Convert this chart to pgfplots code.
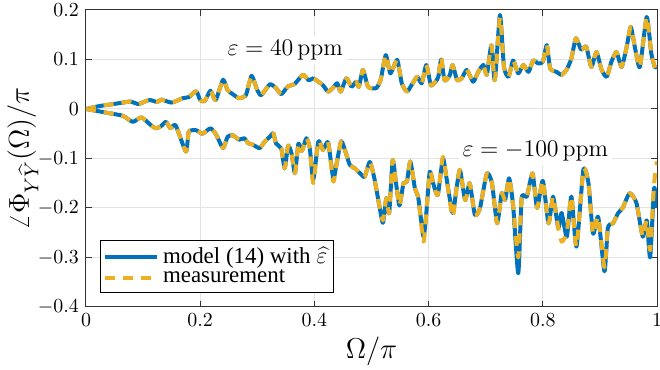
\documentclass[border=0pt]{standalone}
\usepackage{pgfplots}
\usepackage{pgfplotstable}
\usepackage{fontspec}
\usetikzlibrary{calc}
\pgfplotsset{compat=1.18}
\newfontfamily\timesfont{Liberation Serif}
\definecolor{mblue}{rgb}{0,0.447,0.741}
\definecolor{morange}{rgb}{0.929,0.694,0.125}

\pgfplotstableread{
x mod mea
0 0 0
0.024 0.006 0.006
0.048 0.010 0.010
0.065 0.013 0.013
0.078 0.015 0.015
0.092 0.010 0.010
0.105 0.016 0.016
0.113 0.018 0.018
0.125 0.014 0.014
0.132 0.019 0.019
0.15 0.013 0.013
0.17 0.022 0.022
0.18 0.024 0.024
0.193 0.036 0.036
0.2 0.018 0.018
0.208 0.016 0.016
0.218 0.037 0.037
0.227 0.018 0.018
0.24 0.059 0.059
0.248 0.038 0.038
0.257 0.030 0.030
0.268 0.022 0.022
0.28 0.028 0.028
0.29 0.067 0.067
0.3 0.038 0.038
0.307 0.028 0.028
0.322 0.050 0.050
0.333 0.042 0.042
0.342 0.030 0.030
0.354 0.046 0.046
0.365 0.050 0.050
0.38 0.069 0.069
0.39 0.058 0.058
0.398 0.062 0.062
0.407 0.055 0.055
0.415 0.048 0.048
0.424 0.035 0.035
0.432 0.042 0.042
0.44 0.052 0.052
0.446 0.035 0.035
0.456 0.062 0.062
0.465 0.045 0.045
0.473 0.055 0.055
0.478 0.045 0.045
0.485 0.079 0.079
0.494 0.045 0.045
0.508 0.042 0.042
0.516 0.059 0.059
0.525 0.109 0.109
0.533 0.072 0.072
0.545 0.099 0.099
0.553 0.052 0.052
0.562 0.035 0.035
0.57 0.048 0.048
0.58 0.065 0.065
0.588 0.052 0.052
0.596 0.089 0.089
0.604 0.048 0.048
0.612 0.055 0.055
0.617 0.065 0.065
0.622 0.100 0.105
0.628 0.058 0.058
0.637 0.068 0.068
0.642 0.089 0.089
0.65 0.058 0.058
0.658 0.062 0.062
0.667 0.079 0.079
0.678 0.055 0.055
0.687 0.075 0.075
0.696 0.089 0.089
0.702 0.069 0.069
0.71 0.129 0.129
0.716 0.058 0.058
0.725 0.190 0.185
0.732 0.085 0.085
0.74 0.065 0.065
0.748 0.098 0.098
0.757 0.072 0.072
0.766 0.089 0.089
0.775 0.075 0.075
0.783 0.098 0.098
0.792 0.092 0.092
0.8 0.095 0.095
0.807 0.129 0.129
0.813 0.082 0.082
0.824 0.075 0.075
0.833 0.069 0.069
0.842 0.080 0.080
0.85 0.102 0.102
0.858 0.143 0.143
0.867 0.120 0.120
0.876 0.126 0.126
0.885 0.085 0.085
0.894 0.115 0.115
0.903 0.079 0.079
0.912 0.065 0.065
0.92 0.095 0.095
0.929 0.115 0.115
0.938 0.085 0.085
0.947 0.126 0.126
0.954 0.166 0.166
0.962 0.120 0.120
0.97 0.085 0.085
0.982 0.186 0.186
0.99 0.112 0.112
0.996 0.085 0.085
1.0 0.085 0.072
}\uppertab

\pgfplotstableread{
x mod mea
0 0 0
0.024 -0.005 -0.005
0.048 -0.010 -0.010
0.065 -0.014 -0.014
0.082 -0.026 -0.026
0.097 -0.017 -0.017
0.113 -0.032 -0.032
0.122 -0.039 -0.039
0.131 -0.035 -0.035
0.14 -0.026 -0.026
0.148 -0.039 -0.039
0.157 -0.033 -0.033
0.175 -0.086 -0.086
0.18 -0.046 -0.046
0.193 -0.043 -0.043
0.204 -0.050 -0.050
0.218 -0.039 -0.039
0.228 -0.052 -0.052
0.24 -0.079 -0.079
0.248 -0.056 -0.056
0.257 -0.053 -0.053
0.268 -0.062 -0.062
0.277 -0.059 -0.059
0.284 -0.069 -0.069
0.292 -0.072 -0.072
0.304 -0.079 -0.079
0.313 -0.066 -0.066
0.322 -0.056 -0.056
0.328 -0.049 -0.049
0.333 -0.070 -0.070
0.342 -0.080 -0.080
0.348 -0.120 -0.120
0.354 -0.074 -0.074
0.36 -0.090 -0.090
0.366 -0.130 -0.130
0.372 -0.070 -0.070
0.378 -0.085 -0.085
0.386 -0.059 -0.059
0.392 -0.080 -0.080
0.398 -0.143 -0.150
0.407 -0.065 -0.065
0.415 -0.083 -0.083
0.424 -0.067 -0.067
0.433 -0.140 -0.147
0.439 -0.110 -0.110
0.447 -0.065 -0.065
0.456 -0.092 -0.092
0.462 -0.113 -0.113
0.471 -0.120 -0.120
0.48 -0.130 -0.130
0.488 -0.137 -0.137
0.497 -0.107 -0.107
0.505 -0.140 -0.140
0.514 -0.197 -0.197
0.52 -0.230 -0.225
0.526 -0.180 -0.180
0.531 -0.210 -0.210
0.537 -0.103 -0.103
0.543 -0.150 -0.150
0.549 -0.195 -0.195
0.556 -0.150 -0.150
0.562 -0.147 -0.147
0.568 -0.106 -0.106
0.576 -0.160 -0.160
0.582 -0.180 -0.180
0.591 -0.258 -0.268
0.596 -0.210 -0.210
0.602 -0.127 -0.127
0.608 -0.150 -0.150
0.616 -0.174 -0.174
0.625 -0.100 -0.097
0.631 -0.137 -0.137
0.642 -0.210 -0.218
0.649 -0.160 -0.160
0.655 -0.123 -0.123
0.664 -0.184 -0.184
0.672 -0.150 -0.150
0.681 -0.214 -0.214
0.69 -0.200 -0.200
0.702 -0.130 -0.130
0.711 -0.150 -0.150
0.72 -0.231 -0.231
0.728 -0.170 -0.170
0.734 -0.184 -0.184
0.741 -0.140 -0.140
0.748 -0.195 -0.195
0.757 -0.332 -0.300
0.763 -0.180 -0.180
0.772 -0.177 -0.177
0.782 -0.130 -0.130
0.79 -0.200 -0.200
0.8 -0.145 -0.145
0.81 -0.231 -0.231
0.818 -0.177 -0.177
0.827 -0.240 -0.240
0.833 -0.210 -0.268
0.842 -0.258 -0.250
0.85 -0.177 -0.177
0.859 -0.278 -0.278
0.871 -0.123 -0.123
0.88 -0.150 -0.150
0.888 -0.252 -0.252
0.897 -0.218 -0.218
0.908 -0.328 -0.320
0.914 -0.240 -0.240
0.923 -0.231 -0.231
0.932 -0.210 -0.210
0.94 -0.200 -0.200
0.952 -0.170 -0.170
0.964 -0.190 -0.190
0.975 -0.258 -0.258
0.982 -0.225 -0.225
0.988 -0.300 -0.285
0.995 -0.160 -0.150
1.0 -0.200 -0.106
}\lowertab

\begin{document}
\begin{tikzpicture}
\begin{axis}[
  scale only axis,
  width=285.5bp, height=148.5bp,
  xmin=0, xmax=1, ymin=-0.4, ymax=0.2,
  xtick={0,0.2,0.4,0.6,0.8,1},
  ytick={-0.4,-0.3,-0.2,-0.1,0,0.1,0.2},
  yticklabel style={/pgf/number format/fixed,/pgf/number format/precision=1},
  xticklabel style={/pgf/number format/fixed,/pgf/number format/precision=1},
  grid=major,
  major grid style={gray!22, line width=0.5pt},
  tick align=inside,
  major tick length=3bp,
  tick style={black!80, line width=0.5pt},
  axis line style={black!80, line width=0.5pt},
  xlabel={\Large $\Omega/\pi$},
  ylabel={\Large $\angle\Phi_{Y\widehat{Y}}(\Omega)/\pi$},
  xlabel style={yshift=2bp},
  ylabel style={yshift=-7bp},
  legend style={at={(axis cs:0.0245,-0.371)}, anchor=south west,
    font=\timesfont\fontsize{11.5}{11.5}\selectfont, draw=black, fill=white, line width=0.5pt,
    inner sep=1.2pt, row sep=-2.2pt, cells={anchor=west}},
  legend image code/.code={\draw[#1] (0cm,0cm) -- (0.92cm,0cm);},
]
\addplot[mblue, line width=2pt, line join=round, smooth, tension=0.35] table[x=x,y=mod] {\uppertab};
\addlegendentry{model (14) with $\widehat{\varepsilon}$\hspace{19bp}}
\addplot[morange, line width=2pt, line join=round, smooth, tension=0.35, dash pattern=on 5bp off 4bp] table[x=x,y=mea] {\uppertab};
\addlegendentry{measurement}
\addplot[mblue, line width=2pt, line join=round, smooth, tension=0.35, forget plot] table[x=x,y=mod] {\lowertab};
\addplot[morange, line width=2pt, line join=round, smooth, tension=0.35, dash pattern=on 5bp off 4bp, forget plot] table[x=x,y=mea] {\lowertab};
\node[fill=white, inner sep=2pt, font=\large] at (axis cs:0.349,0.119) {$\varepsilon = 40\,\mathrm{ppm}$};
\node[fill=white, inner sep=2pt, font=\large] at (axis cs:0.787,-0.085) {$\varepsilon = -100\,\mathrm{ppm}$};
\end{axis}
\pgfresetboundingbox
\path ($(current axis.south west)+(-43bp,-31.5bp)$) rectangle ($(current axis.north east)+(1.5bp,5bp)$);
\end{tikzpicture}
\end{document}
